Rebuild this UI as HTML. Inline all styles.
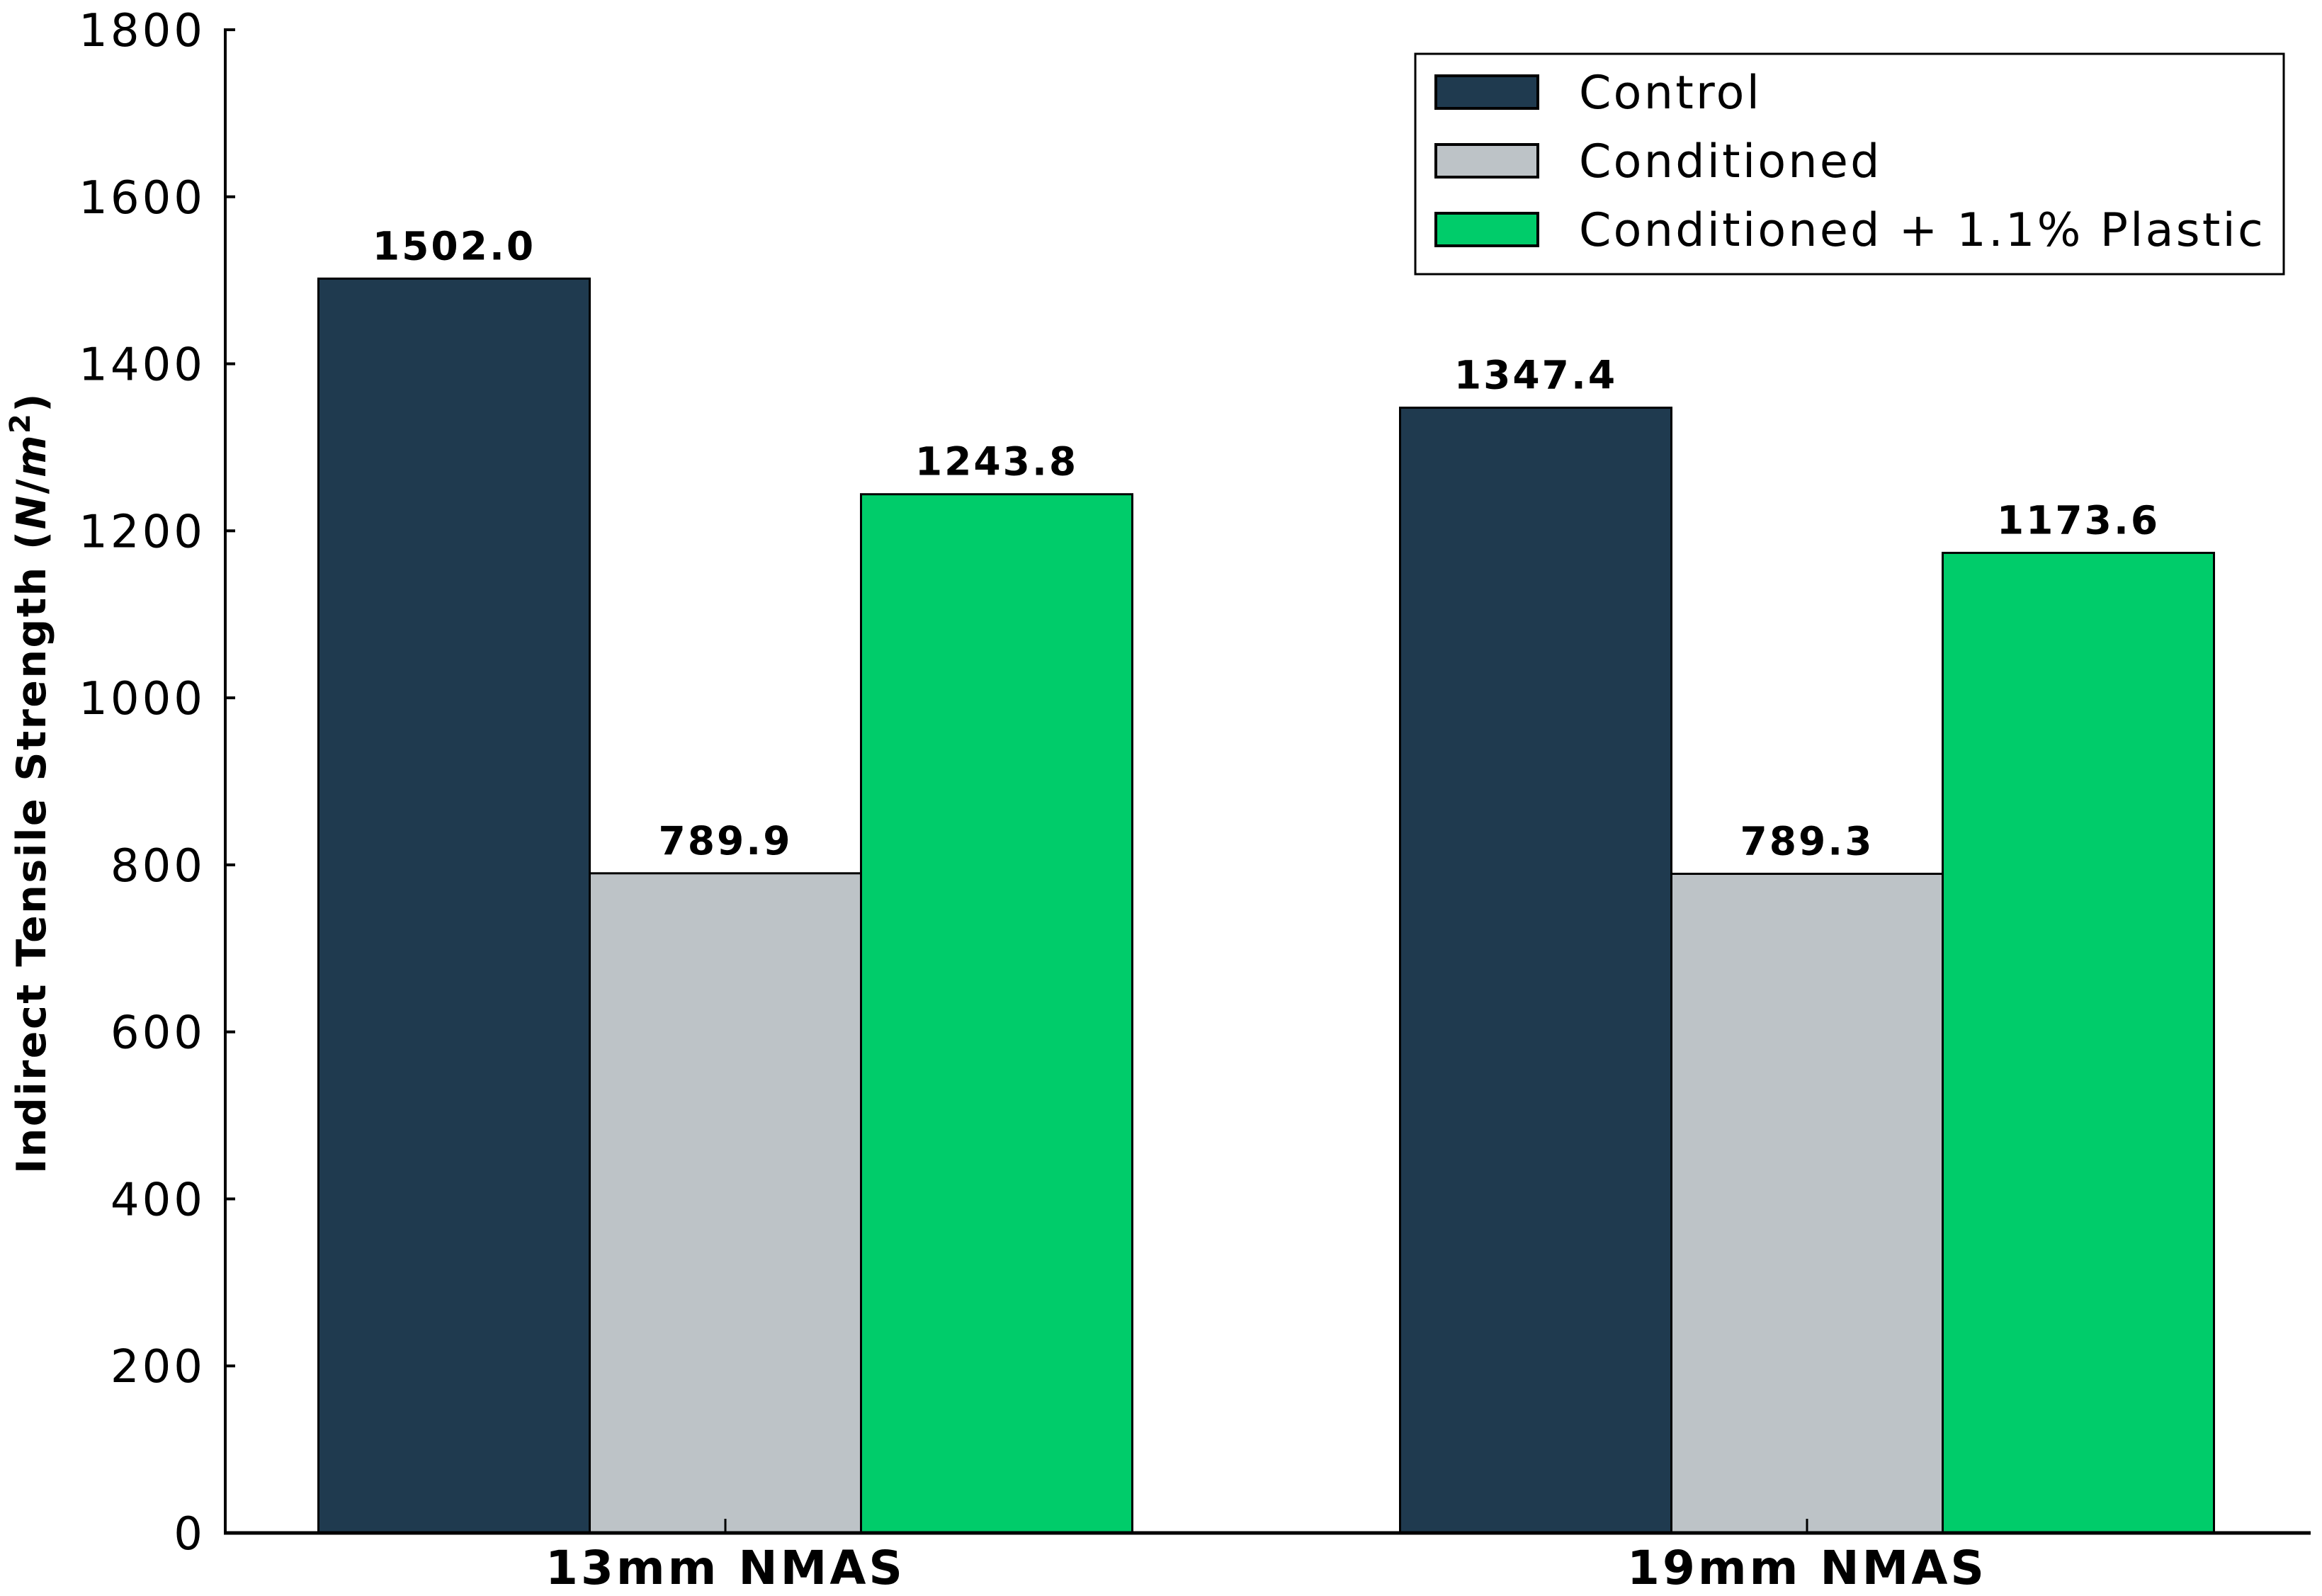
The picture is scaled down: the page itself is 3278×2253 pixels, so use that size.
<!DOCTYPE html>
<html><head><meta charset="utf-8"><style>
html,body{margin:0;padding:0;background:#fff}
svg{display:block}
text{font-family:"DejaVu Sans","Liberation Sans",sans-serif}
</style></head><body>
<svg id="chart" width="3278" height="2253" viewBox="0 0 3278 2253" xmlns="http://www.w3.org/2000/svg">
<rect width="3278" height="2253" fill="#fff"/>
<g id="bars"></g>
<g id="labels"></g>
<g id="yaxis"></g>
<g id="xaxis"></g>
<text transform="translate(64,1105) rotate(-90)" text-anchor="middle" font-size="57" font-weight="bold" letter-spacing="2.5">Indirect Tensile Strength (<tspan font-style="italic">N</tspan>/<tspan font-style="italic">m</tspan><tspan font-size="40" dy="-22">2</tspan><tspan dy="22">)</tspan></text>
<g>
<rect x="1998" y="76" width="1226" height="311" fill="#fff" stroke="#000" stroke-width="3"/>
<g id="legend-entries"></g>
</g>
</svg>
<script>
const categories = ["13mm NMAS", "19mm NMAS"];
const seriesNames = ["Control", "Conditioned", "Conditioned + 1.1% Plastic"];
const controlValues = [1502.0, 1347.4];
const conditionedValues = [789.9, 789.3];
const plasticValues = [1243.8, 1173.6];
const yTicks = [0, 200, 400, 600, 800, 1000, 1200, 1400, 1600, 1800];

const NS = "http://www.w3.org/2000/svg";
const colors = ["#1f3a4f", "#bdc3c7", "#00cc6a"];
const series = [controlValues, conditionedValues, plasticValues];
const x0 = 318, yBase = 2164, yTop = 42, yMax = 1800;
const groupCenters0 = 1024, groupStep = 1527, barW = 383;
function yScale(v){ return yBase - v / yMax * (yBase - yTop); }
function xCenter(i){ return groupCenters0 + i * groupStep; }
function mk(tag, attrs, parent){ const e = document.createElementNS(NS, tag); for (const k in attrs) e.setAttribute(k, attrs[k]); parent.appendChild(e); return e; }

const bars = document.getElementById("bars");
const labels = document.getElementById("labels");
series.forEach((vals, s) => {
  vals.forEach((v, i) => {
    const x = xCenter(i) + (s - 1) * barW - barW / 2;
    const r = mk("rect", {x: x, y: yScale(v), width: barW, height: yBase - yScale(v), fill: colors[s], stroke: "#000", "stroke-width": 3}, bars);
    
    
    const t = mk("text", {x: x + barW / 2, y: yScale(v) - 27, "text-anchor": "middle", "font-size": 55, "font-weight": "bold", "letter-spacing": 3}, labels);
    t.textContent = v.toFixed(1);
    
    
  });
});

const yaxis = document.getElementById("yaxis");
const yl = mk("line", {x1: x0, y1: yTop - 2, x2: x0, y2: yBase, stroke: "#000", "stroke-width": 4}, yaxis);


yTicks.forEach(v => {
  const tk = mk("line", {x1: x0, y1: yScale(v), x2: x0 + 14, y2: yScale(v), stroke: "#000", "stroke-width": 4}, yaxis);
  
  
  const t = mk("text", {x: 290, y: yScale(v) + 23, "text-anchor": "end", "font-size": 64, "letter-spacing": 4}, yaxis);
  t.textContent = v;
  
  
});

const xaxis = document.getElementById("xaxis");
const xl = mk("line", {x1: x0 - 2, y1: yBase, x2: 3262, y2: yBase, stroke: "#000", "stroke-width": 5}, xaxis);


categories.forEach((c, i) => {
  const tk = mk("line", {x1: xCenter(i), y1: yBase, x2: xCenter(i), y2: yBase - 20, stroke: "#000", "stroke-width": 3}, xaxis);
  
  
  const t = mk("text", {x: xCenter(i), y: 2236, "text-anchor": "middle", "font-size": 66, "font-weight": "bold", "letter-spacing": 4}, xaxis);
  t.textContent = c;
  
  
});

const leg = document.getElementById("legend-entries");
seriesNames.forEach((n, s) => {
  const cy = 130 + s * 97;
  const p = mk("rect", {x: 2027, y: cy - 23, width: 144, height: 46, fill: colors[s], stroke: "#000", "stroke-width": 4}, leg);
  
  
  const t = mk("text", {x: 2229, y: cy + 23, "font-size": 65, "letter-spacing": 3.3}, leg);
  t.textContent = n;
  
  
});
</script>
</body></html>
